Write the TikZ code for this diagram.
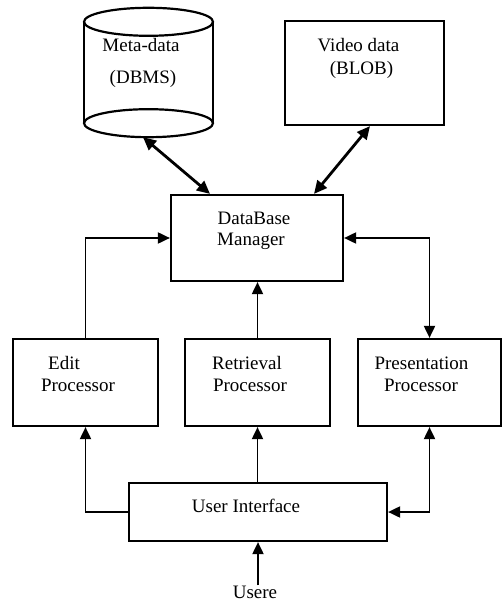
\documentclass[tikz,border=0pt]{standalone}
\usepackage{fontspec}
\setmainfont{Liberation Serif}
\usetikzlibrary{arrows.meta}

\begin{document}
\begin{tikzpicture}[x=1pt,y=-1pt,
	box/.style={draw, line width=2.2pt, minimum width=145pt, minimum height=87pt, inner sep=0pt},
	lbl/.style={font=\fontsize{19}{22}\selectfont, inner sep=0pt, anchor=base},
	link/.style={line width=1.9pt, -{Triangle[length=12pt,width=11pt]}},
	duallink/.style={line width=1.9pt, {Triangle[length=12pt,width=11pt]}-{Triangle[length=12pt,width=11pt]}},
	biglink/.style={line width=2.8pt, {Triangle[length=13pt,width=12pt]}-{Triangle[length=13pt,width=12pt]}}]
	\useasboundingbox (0,0) rectangle (503,601);
	% storage
	\node (meta) [minimum width=129pt, minimum height=129pt, inner sep=0pt] at (148.5,72.5) {};
	\draw [line width=2.2pt] (meta.north west) ++(0,-14pt) -- ++(0,-101pt);
	\draw [line width=2.2pt] (meta.north east) ++(0,-14pt) -- ++(0,-101pt);
	\draw [line width=2.2pt] ([yshift=-14pt]meta.north) ellipse [x radius=64.5pt, y radius=14pt];
	\draw [line width=2.2pt] ([yshift=14pt]meta.south) ellipse [x radius=64.5pt, y radius=14pt];
	\node (video) [box, minimum width=159pt, minimum height=104pt] at (364.5,73) {};
	% manager and processors
	\node (dbm) [box, minimum width=172pt, minimum height=86pt] at (257,238) {};
	\node (edit) [box] at (85.5,382.5) {};
	\node (retr) [box] at (257.5,382.5) {};
	\node (pres) [box, minimum width=143pt] at (429.5,382.5) {};
	\node (ui) [box, minimum width=258pt, minimum height=58pt] at (258,512) {};
	% texts
	\node (metatxt) [lbl] at (141,52) {Meta-data};
	\node (dbmstxt) [lbl] at (143,84) {(DBMS)};
	\node (videotxt) [lbl] at (358.5,52) {Video data};
	\node (blobtxt) [lbl] at (361.5,75) {(BLOB)};
	\node (dbmtxta) [lbl] at (254,225) {DataBase};
	\node (dbmtxtb) [lbl] at (251,246) {Manager};
	\node (edittxta) [lbl] at (64,369) {Edit};
	\node (edittxtb) [lbl] at (78,391) {Processor};
	\node (retrtxta) [lbl] at (247,369) {Retrieval};
	\node (retrtxtb) [lbl] at (250,391) {Processor};
	\node (prestxta) [lbl] at (421.5,369) {Presentation};
	\node (prestxtb) [lbl] at (421,391) {Processor};
	\node (uitxt) [lbl] at (246,512) {User Interface};
	\node (usere) [lbl] at (255,598) {Usere};
	% connectors
	\draw [biglink] ([xshift=-5.5pt]meta.south) -- ([xshift=-47pt]dbm.north);
	\draw [biglink] ([xshift=5.5pt]video.south) -- ([xshift=57pt]dbm.north);
	\draw [link] (edit.north) |- (dbm.west);
	\draw [link] (retr.north) -- (retr.north |- dbm.south);
	\draw [duallink] (dbm.east) -| (pres.north);
	\draw [link] (ui.west) -| (edit.south);
	\draw [link] (ui.north -| retr.south) -- (retr.south);
	\draw [duallink] (pres.south) |- (ui.east);
	\draw [link] (usere.north -| ui.south) -- (ui.south);
\end{tikzpicture}
\end{document}
